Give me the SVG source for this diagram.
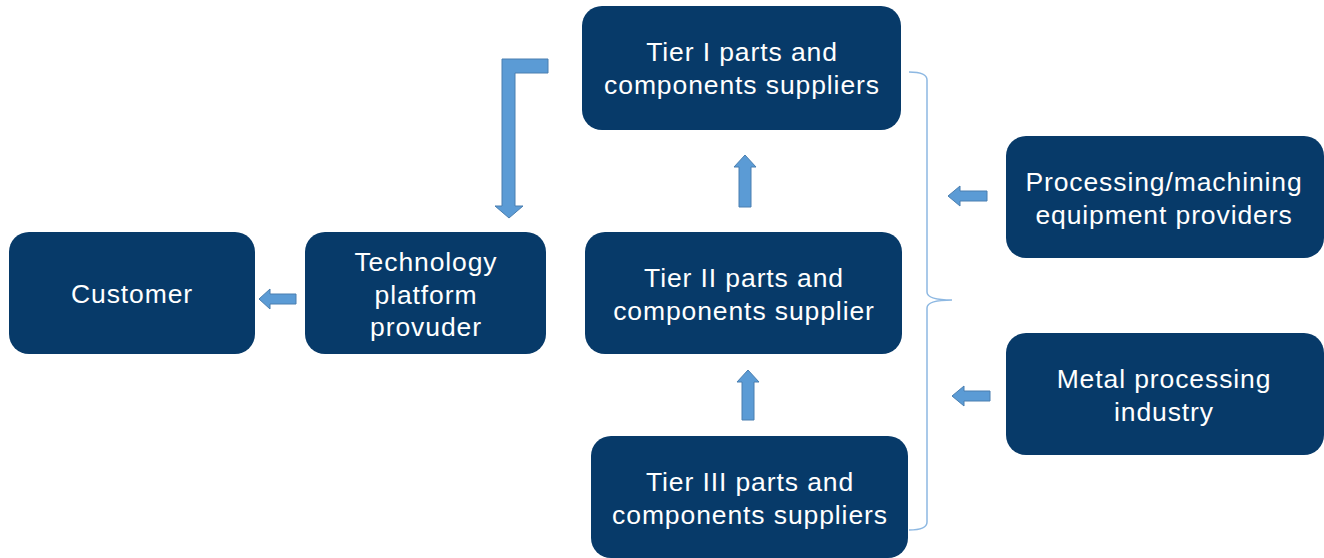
<svg xmlns="http://www.w3.org/2000/svg" width="1324" height="558" viewBox="0 0 1324 558">
<style>
.node{fill:#073A69;}
.lbl{fill:#FFFFFF;font-family:"Liberation Sans",Arial,sans-serif;font-size:26.5px;letter-spacing:0.9px;text-anchor:middle;dominant-baseline:central;}
.arr{fill:#5B9BD5;stroke:#4A7FB0;stroke-width:1;}
.brk{fill:none;stroke:#8DB8E2;stroke-width:1.5;}
</style>
<rect width="1324" height="558" fill="#FFFFFF"/>
<g id="customer"><rect class="node" x="9" y="232" width="246" height="122" rx="20"/><text class="lbl" x="132" y="294">Customer</text></g>
<g id="tech"><rect class="node" x="305" y="232" width="241" height="122" rx="20"/><text class="lbl" x="426" y="262">Technology</text><text class="lbl" x="426" y="295">platform</text><text class="lbl" x="426" y="327">provuder</text></g>
<g id="tier1"><rect class="node" x="582" y="6" width="319" height="124" rx="20"/><text class="lbl" x="742" y="52">Tier I parts and</text><text class="lbl" x="742" y="85">components suppliers</text></g>
<g id="tier2"><rect class="node" x="585" y="232" width="317" height="122" rx="20"/><text class="lbl" x="744" y="278">Tier II parts and</text><text class="lbl" x="744" y="311">components supplier</text></g>
<g id="tier3"><rect class="node" x="591" y="436" width="317" height="122" rx="20"/><text class="lbl" x="750" y="482">Tier III parts and</text><text class="lbl" x="750" y="515">components suppliers</text></g>
<g id="processing"><rect class="node" x="1006" y="136" width="318" height="122" rx="20"/><text class="lbl" x="1164" y="182">Processing/machining</text><text class="lbl" x="1164" y="215">equipment providers</text></g>
<g id="metal"><rect class="node" x="1006" y="333" width="318" height="122" rx="20"/><text class="lbl" x="1164" y="379">Metal processing</text><text class="lbl" x="1164" y="412">industry</text></g>
<g id="connectors">
<path class="brk" d="M909 72 Q927 72 927 80 L927 292 Q927 300 952 300 Q927 300 927 308 L927 522 Q927 530 909 530"/>
<path class="arr" d="M548 59 L548 73 L515 73 L515 206 L523 206 L509 218 L495 206 L502 206 L502 59 Z"/>
<path class="arr" d="M739 207 L739 167 L734 167 L745 155 L756 167 L751 167 L751 207 Z"/>
<path class="arr" d="M742 420 L742 382 L737 382 L748 370 L759 382 L754 382 L754 420 Z"/>
<path class="arr" d="M296 294 L296 304 L270 304 L270 309 L259 299 L270 289 L270 294 Z"/>
<path class="arr" d="M987 191 L987 201 L960 201 L960 206 L948 196 L960 186 L960 191 Z"/>
<path class="arr" d="M990 391 L990 401 L964 401 L964 406 L952 396 L964 386 L964 391 Z"/>
</g>
</svg>
